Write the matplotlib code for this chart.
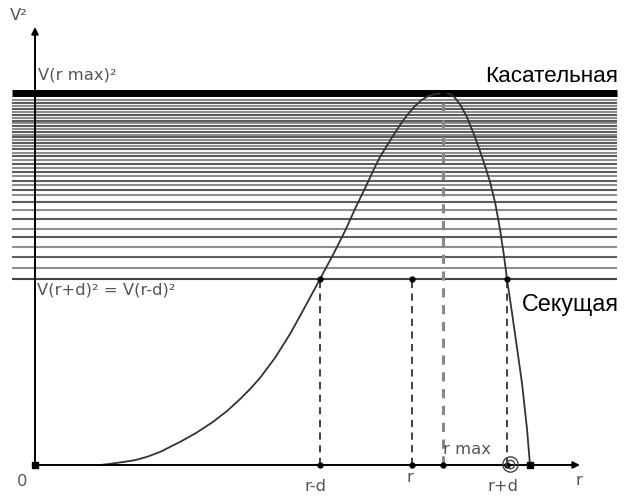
import matplotlib
matplotlib.use("Agg")
import matplotlib.pyplot as plt

plt.rcParams['font.family'] = ['DejaVu Sans']

# ---- data (r in arbitrary units, V^2 normalised to V(r max)^2 = 1) ----
levels = [0.5, 0.530, 0.559, 0.586, 0.613, 0.634, 0.661, 0.685, 0.707, 0.726,
          0.739, 0.753, 0.763, 0.777, 0.788, 0.798, 0.809, 0.820, 0.831, 0.839,
          0.849, 0.858, 0.866, 0.874, 0.882, 0.887, 0.895, 0.903, 0.911, 0.919,
          0.925, 0.933, 0.941, 0.949, 0.957, 0.965, 0.973, 0.981]
vmax_level = 1.0
secant_level = 0.5

curve_r = [65, 75, 88, 100, 112, 125, 145, 161, 178, 192, 205, 215, 225, 240,
           255, 270, 285, 298, 310, 321, 332, 339, 345, 355, 365, 372, 380, 386,
           392, 398, 408, 415, 420, 425, 432, 438, 443, 447, 451, 455, 460, 465,
           469, 472, 477, 482, 487, 492, 495]
curve_v = [0.0, 0.003, 0.008, 0.013, 0.022, 0.035, 0.062, 0.086, 0.116, 0.145,
           0.177, 0.204, 0.234, 0.288, 0.352, 0.425, 0.5, 0.565, 0.629, 0.694,
           0.755, 0.796, 0.828, 0.872, 0.914, 0.940, 0.965, 0.980, 0.990, 0.996,
           1.0, 0.997, 0.987, 0.970, 0.935, 0.895, 0.859, 0.828, 0.796, 0.761,
           0.707, 0.634, 0.562, 0.5, 0.409, 0.315, 0.220, 0.097, 0.0]

r_minus_d = 285
r_mid = 377
r_max = 408
r_plus_d = 472

tick_pos = [r_minus_d, r_mid, r_plus_d]
tick_labels = ["r-d", "r", "r+d"]

# ---- figure ----
fig = plt.figure(figsize=(6.27, 5.02), dpi=100)
ax = fig.add_axes([0, 0, 1, 1])
ax.set_xlim(-35, 592)
ax.set_ylim(-36 / 372, 466 / 372)
ax.axis('off')

x_left, x_right = -23, 582

# horizontal level lines
for i, lv in enumerate(levels):
    col = '#5c5c5c' if i % 2 == 0 else '#8e8e8e'
    if i == 0:
        col = '#444444'
    ax.plot([x_left, x_right], [lv, lv], color=col, lw=1.5,
            solid_capstyle='butt', zorder=1)
ax.plot([x_left, x_right], [vmax_level, vmax_level], color='black', lw=5,
        solid_capstyle='butt', zorder=2)

# axes with arrows
ax.annotate('', xy=(0, 438 / 372), xytext=(0, 0),
            arrowprops=dict(arrowstyle='-|>', color='black', lw=1.4,
                            mutation_scale=10, shrinkA=0, shrinkB=0), zorder=5)
ax.annotate('', xy=(545, 0), xytext=(0, 0),
            arrowprops=dict(arrowstyle='-|>', color='black', lw=1.4,
                            mutation_scale=10, shrinkA=0, shrinkB=0), zorder=5)
ax.plot([0], [0], marker='s', color='black', ms=4, zorder=6)

# curve
ax.plot(curve_r, curve_v, color='#333333', lw=1.3, zorder=4)
ax.plot([curve_r[-1]], [0], marker='s', color='black', ms=5, zorder=6)

# dashed verticals
for xv in [r_minus_d, r_mid, r_plus_d]:
    ax.plot([xv, xv], [0, secant_level], color='#333333', lw=1.3,
            ls=(0, (4, 3)), zorder=3)
    ax.plot([xv, xv], [0, secant_level], ls='none', marker='o', ms=3.5,
            color='black', zorder=6)
ax.plot([r_max, r_max], [0, vmax_level], color='#888888', lw=2.2,
        ls=(0, (3, 2.5)), zorder=3)
ax.plot([r_max, r_max], [0, vmax_level], ls='none', marker='o', ms=3.5,
        color='black', zorder=6)

# little circled glyph near r+d on the axis
ax.plot([r_plus_d + 3], [0.003], marker='o', ms=11, mfc='none', mec='#444444',
        mew=1.0, ls='none', zorder=6)
ax.plot([r_plus_d + 3], [0.003], marker='o', ms=6, mfc='none', mec='#444444',
        mew=1.0, ls='none', zorder=6)

# labels
gray = '#555555'
fs = 11.8
ax.text(-16, 1.21, "V²", fontsize=fs, color=gray, ha='center', va='center')
ax.text(3, 1.051, "V(r max)²", fontsize=fs, color=gray, ha='left', va='center')
ax.text(2, 0.474, "V(r+d)² = V(r-d)²", fontsize=fs, color=gray, ha='left',
        va='center')
ax.text(450, 1.032, "Касательная", fontsize=16.2, color='black', ha='left',
        va='baseline', family=['Liberation Sans', 'DejaVu Sans'])
ax.text(487, 0.417, "Секущая", fontsize=16.8, color='black', ha='left',
        va='baseline', family=['Liberation Sans', 'DejaVu Sans'])
ax.text(-13, -0.042, "0", fontsize=fs, color=gray, ha='center', va='center')
label_v = {"r-d": -0.055, "r": -0.031, "r+d": -0.055}
label_dx = {"r-d": -4, "r": -2, "r+d": -4}
for p, lab in zip(tick_pos, tick_labels):
    ax.text(p + label_dx[lab], label_v[lab], lab, fontsize=fs, color=gray,
            ha='center', va='center')
ax.text(r_max, 0.044, "r max", fontsize=fs, color=gray, ha='left', va='center')
ax.text(544, -0.040, "r", fontsize=fs, color=gray, ha='center', va='center')

fig.savefig("out.png", dpi=100)
